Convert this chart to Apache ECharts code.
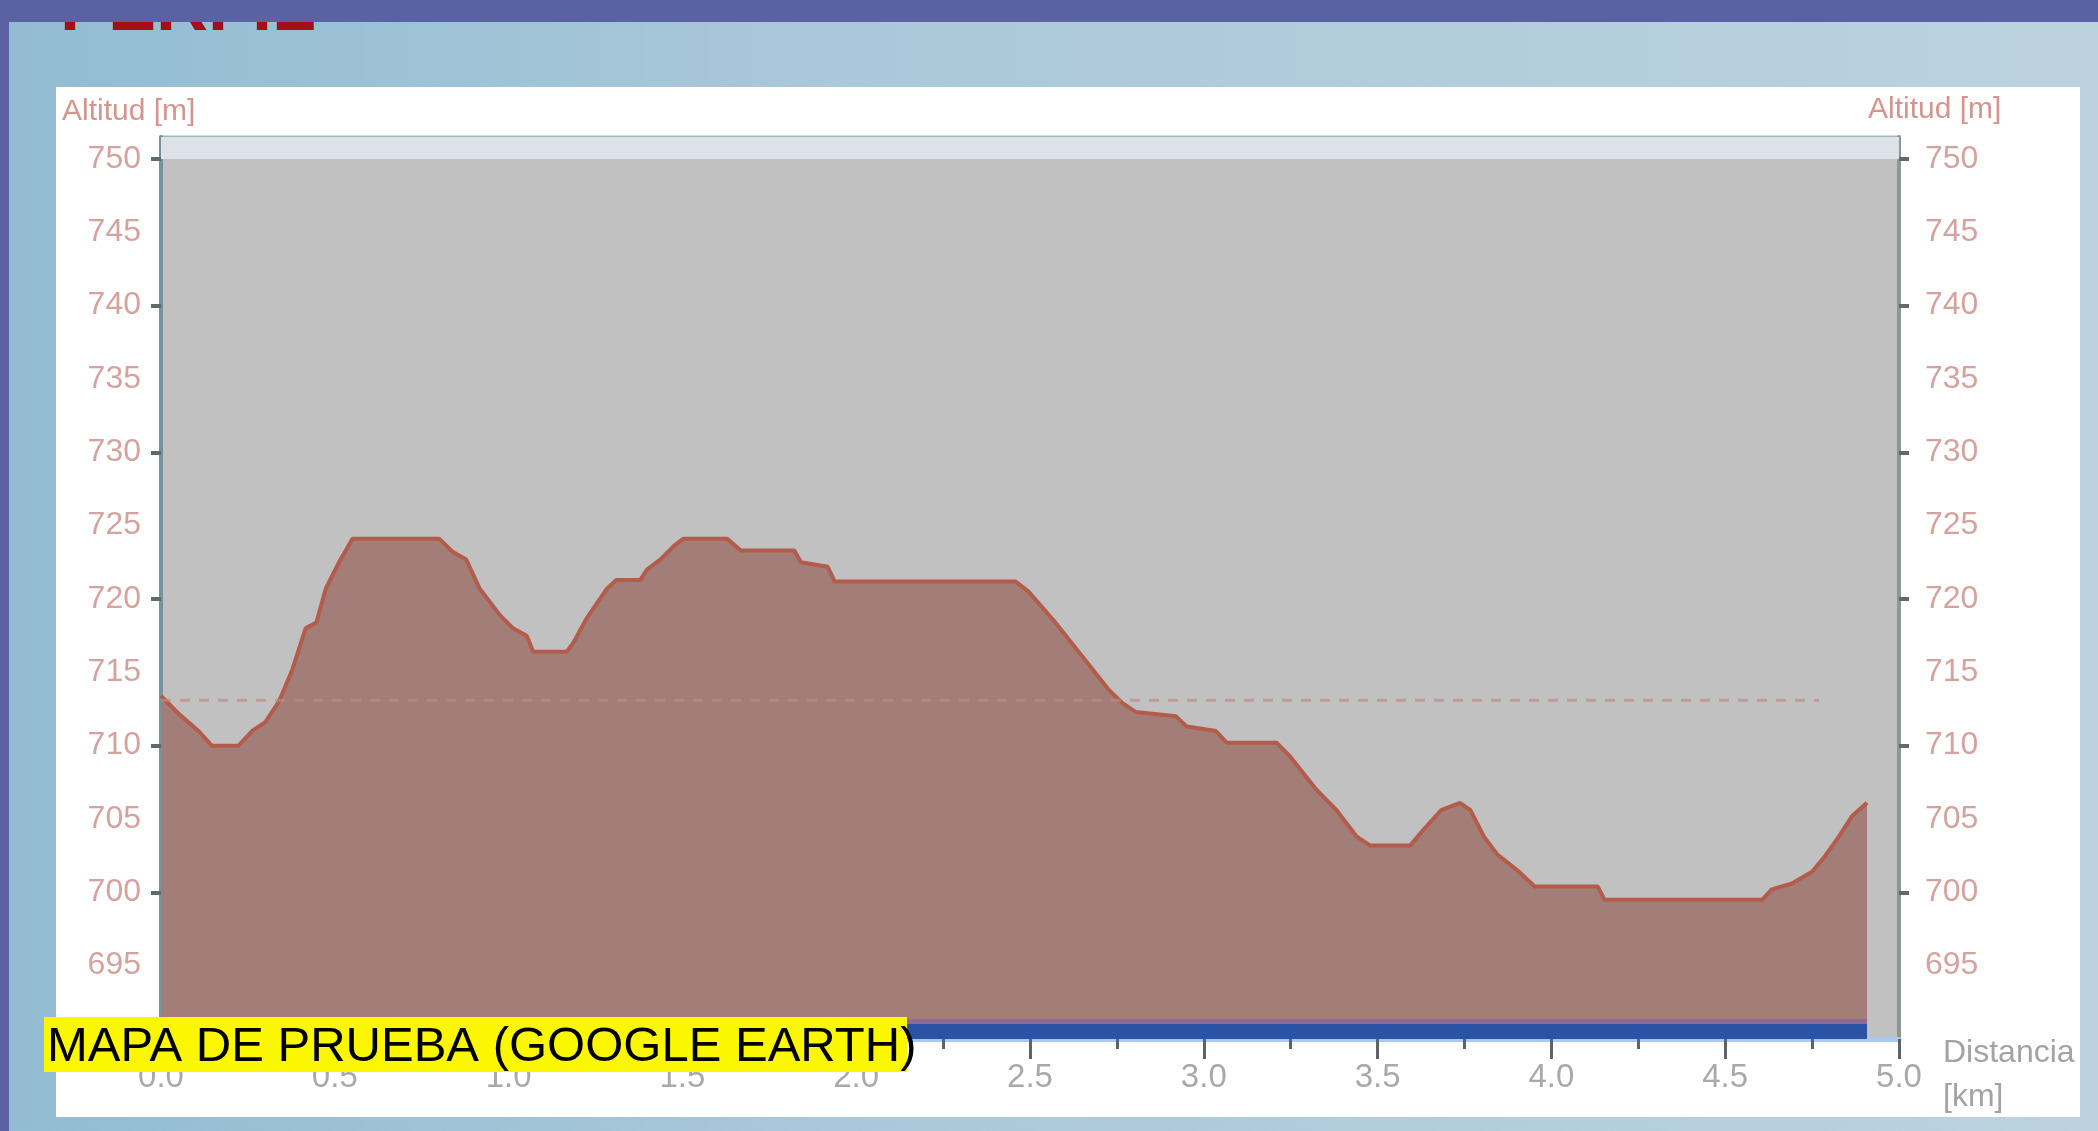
<!DOCTYPE html>
<html>
<head>
<meta charset="utf-8">
<script src="https://cdn.jsdelivr.net/npm/echarts@6/dist/echarts.min.js"></script>
<style>
html,body{margin:0;padding:0;background:#aecadb;}
#c{width:2098px;height:1131px;}
</style>
</head>
<body>
<div id="c"></div>
<script>
// ---- data ----
const distKm = [0.000,0.050,0.108,0.146,0.223,0.262,0.300,0.339,0.378,0.416,0.447,0.474,0.512,0.551,0.801,0.840,0.878,0.917,0.975,1.013,1.052,1.071,1.167,1.186,1.225,1.283,1.310,1.379,1.398,1.437,1.475,1.502,1.629,1.668,1.822,1.841,1.918,1.938,2.458,2.496,2.573,2.650,2.727,2.766,2.804,2.920,2.951,3.035,3.066,3.209,3.247,3.324,3.382,3.440,3.478,3.594,3.633,3.683,3.737,3.767,3.806,3.844,3.902,3.952,4.133,4.153,4.607,4.634,4.692,4.750,4.788,4.827,4.865,4.908];
const altM   = [713.4,712.2,711.0,710.0,710.0,711.0,711.6,713.0,715.2,718.0,718.4,720.7,722.5,724.1,724.1,723.2,722.7,720.7,718.9,718.0,717.5,716.4,716.4,717.0,718.7,720.7,721.3,721.3,722.0,722.7,723.6,724.1,724.1,723.3,723.3,722.5,722.2,721.2,721.2,720.5,718.4,716.1,713.8,712.9,712.3,712.0,711.3,711.0,710.2,710.2,709.3,707.0,705.6,703.8,703.2,703.2,704.3,705.6,706.1,705.6,703.8,702.6,701.5,700.4,700.4,699.5,699.5,700.2,700.6,701.4,702.5,703.8,705.2,706.1];
const meanAlt = 713.1;
const meanEndKm = 4.77;
const trackBandTop = 691.2;
const yLabelValues = [695,700,705,710,715,720,725,730,735,740,745,750];
const yTickValues = [700,710,720,730,740,750];
const xLabelDecimals = 1;
const yAxisName = 'Altitud [m]';
const xAxisNameLines = ['Distancia','[km]'];
const titleText = 'PERFIL';
const captionText = 'MAPA DE PRUEBA (GOOGLE EARTH)';

const FONT = '"Liberation Sans", Arial, sans-serif';
const chart = echarts.init(document.getElementById('c'), null, {renderer:'canvas', width:2098, height:1131});

const yAxisCommon = {
  type:'value', min:690, max:751.5, interval:5,
  splitLine:{show:false},
  axisTick:{show:true, length:10, customValues:yTickValues, lineStyle:{color:'#5f6a70', width:4}},
  axisLabel:{customValues:yLabelValues, color:'#d5a39d', fontSize:32, fontFamily:FONT,
    formatter:function(v){return yLabelValues.indexOf(Math.round(v*10)/10)>=0 ? String(v) : '';}}
};
const lastKm = distKm[distKm.length-1];

const option = {
  backgroundColor:{type:'linear', x:0, y:0, x2:1, y2:0, colorStops:[
    {offset:0, color:'#92bcd3'},{offset:0.4, color:'#aac8d9'},{offset:1, color:'#bcd2df'}]},
  animation:false,
  grid:{left:161, right:199, top:137, bottom:92, show:true, backgroundColor:'#c1c1c1', borderColor:'#a5b5c3', borderWidth:3},
  xAxis:{
    type:'value', min:0, max:5, interval:0.5,
    splitLine:{show:false},
    axisLine:{show:true, onZero:false, lineStyle:{color:'#a9c9ee', width:5}},
    axisTick:{show:true, length:20, lineStyle:{color:'#5c636b', width:3}},
    minorTick:{show:true, splitNumber:2, length:10, lineStyle:{color:'#5c636b', width:3}},
    axisLabel:{color:'#a9a9a9', fontSize:33, fontFamily:FONT, margin:22, showMaxLabel:true,
      formatter:function(v){return v.toFixed(xLabelDecimals);}}
  },
  yAxis:[
    Object.assign({}, yAxisCommon, {position:'left',
      axisLine:{show:true, lineStyle:{color:'#75939e', width:4}},
      axisLabel:Object.assign({}, yAxisCommon.axisLabel, {margin:20})}),
    Object.assign({}, yAxisCommon, {position:'right',
      axisLine:{show:true, lineStyle:{color:'#8e9696', width:4}},
      axisLabel:Object.assign({}, yAxisCommon.axisLabel, {margin:26})})
  ],
  series:[
    {type:'line', data:[], z:1, silent:true,
      markArea:{silent:true, itemStyle:{color:'#dde2e9'}, data:[[{yAxis:750},{yAxis:751.5}]]}},
    {type:'line', name:'Altitud', data:distKm.map((d,i)=>[d,altM[i]]), showSymbol:false, z:2,
      lineStyle:{color:'#b45c4c', width:4}, areaStyle:{color:'#a37d77', opacity:1, origin:'start'}},
    {type:'line', name:'Media', data:[[0,meanAlt],[meanEndKm,meanAlt]], showSymbol:false, z:3, silent:true,
      lineStyle:{type:[10,9], color:'rgba(190,140,130,0.7)', width:3}},
    {type:'line', name:'Recorrido', data:[[0,trackBandTop],[lastKm,trackBandTop]], showSymbol:false, z:4, silent:true,
      lineStyle:{color:'#8d6b93', width:5}, areaStyle:{color:'#2b53a5', opacity:1, origin:'start'}}
  ],
  graphic:[
    {type:'rect', z:-10, shape:{x:56, y:87, width:2024, height:1030}, style:{fill:'#ffffff'}},
    {type:'text', z:40, x:60, y:46, style:{text:titleText, font:'bold 72px '+FONT, fill:'#a2101e', verticalAlign:'bottom'}},
    {type:'rect', z:50, shape:{x:0, y:0, width:2098, height:22}, style:{fill:'#5a62a4'}},
    {type:'rect', z:50, shape:{x:0, y:0, width:9, height:1131}, style:{fill:'#5a62a4'}},
    {type:'text', z:60, x:62, y:112, style:{text:yAxisName, font:'30px '+FONT, fill:'#d2968e', verticalAlign:'middle'}},
    {type:'text', z:60, x:1868, y:110, style:{text:yAxisName, font:'30px '+FONT, fill:'#d2968e', verticalAlign:'middle'}},
    {type:'text', z:60, x:1943, y:1053, style:{text:xAxisNameLines[0], font:'32px '+FONT, fill:'#a3a3a3', verticalAlign:'middle'}},
    {type:'text', z:60, x:1943, y:1097, style:{text:xAxisNameLines[1], font:'32px '+FONT, fill:'#a3a3a3', verticalAlign:'middle'}},
    {type:'rect', z:100, shape:{x:44, y:1017, width:863, height:55}, style:{fill:'#fbf700'}},
    {type:'text', z:101, x:47, y:1047, style:{text:captionText, font:'49px '+FONT, fill:'#000000', verticalAlign:'middle'}}
  ]
};
chart.setOption(option);
</script>
</body>
</html>
